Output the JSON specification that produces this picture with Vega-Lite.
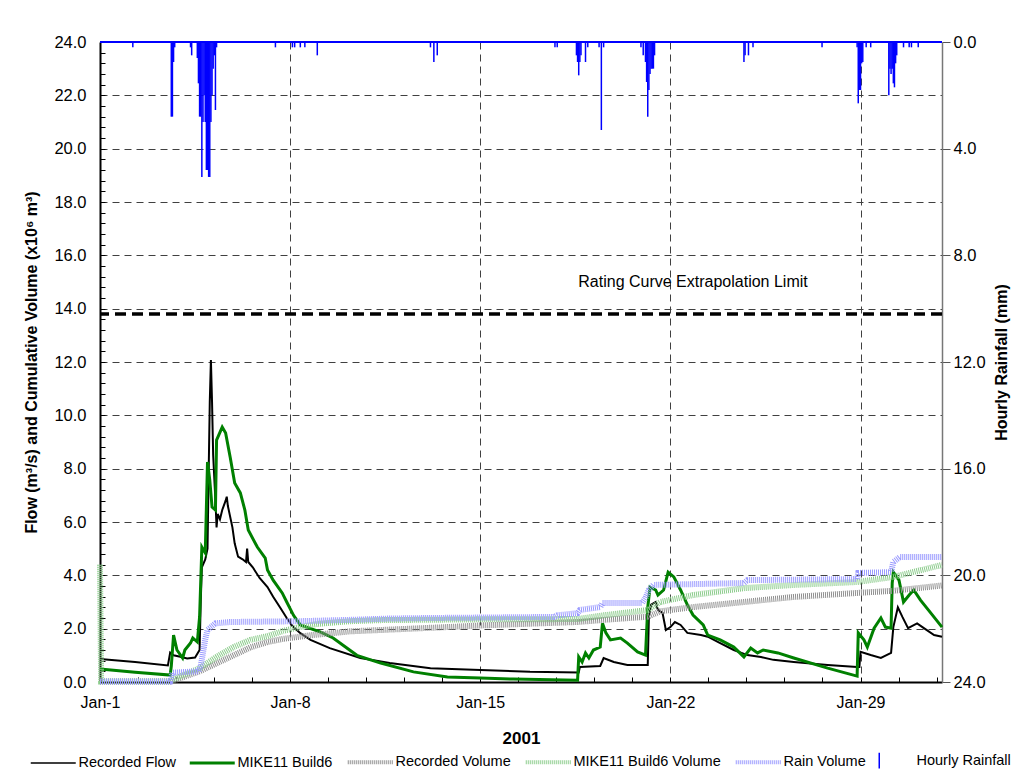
{
  "$schema": "https://vega.github.io/schema/vega-lite/v6.json",
  "width": 842,
  "height": 640,
  "autosize": {"type": "none"},
  "padding": {"left": 100, "top": 42, "right": 75, "bottom": 98},
  "background": "white",
  "config": {
    "font": "Liberation Sans",
    "view": {"stroke": null},
    "text": {"font": "Liberation Sans"},
    "legend": {
      "direction": "horizontal",
      "labelFontSize": 14.5,
      "labelColor": "black",
      "labelFont": "Liberation Sans",
      "symbolType": "stroke",
      "symbolSize": 2025,
      "symbolStrokeWidth": 2,
      "columnPadding": 6,
      "labelOffset": 18,
      "padding": 0
    }
  },
  "datasets": {
    "recflow": [
      {"t":"2001-01-01T00:00","v":0.86},{"t":"2001-01-02T07:00","v":0.75},{"t":"2001-01-03T12:00","v":0.62},{"t":"2001-01-03T14:00","v":1.1},{"t":"2001-01-03T17:00","v":1.0},{"t":"2001-01-03T23:00","v":0.95},{"t":"2001-01-04T05:00","v":0.88},{"t":"2001-01-04T12:00","v":0.92},{"t":"2001-01-04T16:00","v":1.2},{"t":"2001-01-04T17:00","v":3.0},{"t":"2001-01-04T18:00","v":4.3},{"t":"2001-01-04T21:00","v":4.6},{"t":"2001-01-04T23:00","v":5.0},{"t":"2001-01-05T00:00","v":7.8},{"t":"2001-01-05T01:00","v":10.5},{"t":"2001-01-05T02:00","v":12.07},{"t":"2001-01-05T03:00","v":10.5},{"t":"2001-01-05T04:00","v":8.5},{"t":"2001-01-05T06:00","v":6.8},{"t":"2001-01-05T07:00","v":5.8},{"t":"2001-01-05T08:00","v":6.3},{"t":"2001-01-05T10:00","v":6.1},{"t":"2001-01-05T12:00","v":6.45},{"t":"2001-01-05T15:00","v":6.8},{"t":"2001-01-05T16:00","v":6.95},{"t":"2001-01-05T17:00","v":6.6},{"t":"2001-01-05T21:00","v":5.8},{"t":"2001-01-05T23:00","v":5.2},{"t":"2001-01-06T02:00","v":4.7},{"t":"2001-01-06T06:00","v":4.6},{"t":"2001-01-06T09:00","v":4.5},{"t":"2001-01-06T10:00","v":5.0},{"t":"2001-01-06T11:00","v":4.5},{"t":"2001-01-06T15:00","v":4.3},{"t":"2001-01-06T21:00","v":3.9},{"t":"2001-01-07T04:00","v":3.56},{"t":"2001-01-07T09:00","v":3.2},{"t":"2001-01-07T15:00","v":2.8},{"t":"2001-01-07T21:00","v":2.4},{"t":"2001-01-08T02:00","v":2.1},{"t":"2001-01-08T09:00","v":1.83},{"t":"2001-01-08T18:00","v":1.58},{"t":"2001-01-09T11:00","v":1.27},{"t":"2001-01-10T14:00","v":0.9},{"t":"2001-01-11T16:00","v":0.71},{"t":"2001-01-13T04:00","v":0.52},{"t":"2001-01-15T00:00","v":0.45},{"t":"2001-01-16T20:00","v":0.38},{"t":"2001-01-18T15:00","v":0.36},{"t":"2001-01-18T16:00","v":0.56},{"t":"2001-01-19T10:00","v":0.6},{"t":"2001-01-19T13:00","v":0.9},{"t":"2001-01-19T22:00","v":0.75},{"t":"2001-01-20T10:00","v":0.64},{"t":"2001-01-21T04:00","v":0.64},{"t":"2001-01-21T05:00","v":2.44},{"t":"2001-01-21T07:00","v":2.9},{"t":"2001-01-21T11:00","v":3.0},{"t":"2001-01-21T13:00","v":2.7},{"t":"2001-01-21T17:00","v":2.6},{"t":"2001-01-21T20:00","v":1.95},{"t":"2001-01-22T00:00","v":2.06},{"t":"2001-01-22T04:00","v":2.25},{"t":"2001-01-22T09:00","v":2.14},{"t":"2001-01-22T15:00","v":1.84},{"t":"2001-01-23T03:00","v":1.76},{"t":"2001-01-23T09:00","v":1.7},{"t":"2001-01-23T20:00","v":1.46},{"t":"2001-01-24T08:00","v":1.2},{"t":"2001-01-24T20:00","v":1.01},{"t":"2001-01-25T08:00","v":0.94},{"t":"2001-01-25T19:00","v":0.83},{"t":"2001-01-26T13:00","v":0.75},{"t":"2001-01-27T19:00","v":0.64},{"t":"2001-01-28T21:00","v":0.56},{"t":"2001-01-28T23:00","v":0.56},{"t":"2001-01-29T00:00","v":1.13},{"t":"2001-01-29T09:00","v":1.01},{"t":"2001-01-29T18:00","v":0.9},{"t":"2001-01-30T03:00","v":1.09},{"t":"2001-01-30T05:00","v":2.06},{"t":"2001-01-30T09:00","v":2.8},{"t":"2001-01-30T13:00","v":2.44},{"t":"2001-01-30T18:00","v":2.02},{"t":"2001-01-31T02:00","v":2.2},{"t":"2001-01-31T08:00","v":2.02},{"t":"2001-01-31T17:00","v":1.76},{"t":"2001-02-01T00:00","v":1.7}
    ],
    "mikeflow": [
      {"t":"2001-01-01T00:00","v":0.49},{"t":"2001-01-02T07:00","v":0.37},{"t":"2001-01-03T14:00","v":0.26},{"t":"2001-01-03T15:00","v":0.6},{"t":"2001-01-03T17:00","v":1.76},{"t":"2001-01-03T20:00","v":1.2},{"t":"2001-01-04T01:00","v":0.9},{"t":"2001-01-04T03:00","v":1.2},{"t":"2001-01-04T08:00","v":1.46},{"t":"2001-01-04T10:00","v":1.65},{"t":"2001-01-04T14:00","v":1.5},{"t":"2001-01-04T16:00","v":2.44},{"t":"2001-01-04T18:00","v":5.06},{"t":"2001-01-04T21:00","v":4.84},{"t":"2001-01-04T23:00","v":8.25},{"t":"2001-01-05T01:00","v":7.57},{"t":"2001-01-05T03:00","v":6.56},{"t":"2001-01-05T06:00","v":6.45},{"t":"2001-01-05T07:00","v":9.07},{"t":"2001-01-05T12:00","v":9.56},{"t":"2001-01-05T15:00","v":9.34},{"t":"2001-01-05T19:00","v":8.44},{"t":"2001-01-05T23:00","v":7.46},{"t":"2001-01-06T04:00","v":7.09},{"t":"2001-01-06T08:00","v":6.45},{"t":"2001-01-06T11:00","v":5.7},{"t":"2001-01-06T19:00","v":5.06},{"t":"2001-01-07T02:00","v":4.65},{"t":"2001-01-07T04:00","v":4.2},{"t":"2001-01-07T09:00","v":3.82},{"t":"2001-01-07T17:00","v":3.34},{"t":"2001-01-07T21:00","v":3.0},{"t":"2001-01-08T03:00","v":2.5},{"t":"2001-01-08T09:00","v":2.14},{"t":"2001-01-09T03:00","v":1.87},{"t":"2001-01-09T14:00","v":1.65},{"t":"2001-01-10T11:00","v":1.0},{"t":"2001-01-11T08:00","v":0.71},{"t":"2001-01-12T13:00","v":0.38},{"t":"2001-01-13T19:00","v":0.19},{"t":"2001-01-15T00:00","v":0.15},{"t":"2001-01-16T05:00","v":0.11},{"t":"2001-01-18T14:00","v":0.07},{"t":"2001-01-18T15:00","v":0.94},{"t":"2001-01-18T18:00","v":0.75},{"t":"2001-01-18T21:00","v":1.09},{"t":"2001-01-19T00:00","v":0.9},{"t":"2001-01-19T04:00","v":1.2},{"t":"2001-01-19T10:00","v":1.31},{"t":"2001-01-19T12:00","v":2.2},{"t":"2001-01-19T15:00","v":1.84},{"t":"2001-01-19T19:00","v":1.58},{"t":"2001-01-20T04:00","v":1.65},{"t":"2001-01-20T10:00","v":1.46},{"t":"2001-01-20T19:00","v":1.13},{"t":"2001-01-21T02:00","v":1.01},{"t":"2001-01-21T04:00","v":2.8},{"t":"2001-01-21T06:00","v":3.56},{"t":"2001-01-21T11:00","v":3.45},{"t":"2001-01-21T13:00","v":3.26},{"t":"2001-01-21T18:00","v":3.45},{"t":"2001-01-21T22:00","v":4.12},{"t":"2001-01-22T03:00","v":3.94},{"t":"2001-01-22T09:00","v":3.45},{"t":"2001-01-22T15:00","v":2.89},{"t":"2001-01-22T20:00","v":2.51},{"t":"2001-01-23T05:00","v":2.14},{"t":"2001-01-23T09:00","v":1.76},{"t":"2001-01-23T20:00","v":1.58},{"t":"2001-01-24T08:00","v":1.31},{"t":"2001-01-24T17:00","v":0.94},{"t":"2001-01-24T23:00","v":1.27},{"t":"2001-01-25T05:00","v":1.09},{"t":"2001-01-25T10:00","v":1.2},{"t":"2001-01-25T23:00","v":1.09},{"t":"2001-01-26T13:00","v":0.9},{"t":"2001-01-27T19:00","v":0.52},{"t":"2001-01-28T21:00","v":0.22},{"t":"2001-01-28T22:00","v":1.84},{"t":"2001-01-29T03:00","v":1.58},{"t":"2001-01-29T06:00","v":1.31},{"t":"2001-01-29T12:00","v":2.02},{"t":"2001-01-29T18:00","v":2.4},{"t":"2001-01-29T22:00","v":2.06},{"t":"2001-01-30T03:00","v":2.02},{"t":"2001-01-30T04:00","v":3.71},{"t":"2001-01-30T05:00","v":4.12},{"t":"2001-01-30T10:00","v":3.82},{"t":"2001-01-30T14:00","v":3.0},{"t":"2001-01-30T19:00","v":3.26},{"t":"2001-01-30T23:00","v":3.45},{"t":"2001-01-31T05:00","v":3.07},{"t":"2001-01-31T14:00","v":2.59},{"t":"2001-02-01T00:00","v":2.06}
    ],
    "recvol": [
      {"t":"2001-01-01T00:00","v":0.02},{"t":"2001-01-03T14:00","v":0.02},{"t":"2001-01-03T20:00","v":0.1},{"t":"2001-01-04T16:00","v":0.4},{"t":"2001-01-05T07:00","v":0.7},{"t":"2001-01-05T22:00","v":1.0},{"t":"2001-01-06T13:00","v":1.3},{"t":"2001-01-07T04:00","v":1.5},{"t":"2001-01-07T18:00","v":1.62},{"t":"2001-01-08T20:00","v":1.76},{"t":"2001-01-10T05:00","v":1.9},{"t":"2001-01-11T08:00","v":1.95},{"t":"2001-01-13T19:00","v":2.06},{"t":"2001-01-15T00:00","v":2.12},{"t":"2001-01-18T14:00","v":2.25},{"t":"2001-01-19T13:00","v":2.33},{"t":"2001-01-21T04:00","v":2.45},{"t":"2001-01-21T15:00","v":2.65},{"t":"2001-01-22T20:00","v":2.81},{"t":"2001-01-24T17:00","v":3.0},{"t":"2001-01-26T13:00","v":3.19},{"t":"2001-01-28T21:00","v":3.34},{"t":"2001-01-30T05:00","v":3.42},{"t":"2001-02-01T00:00","v":3.62}
    ],
    "mikevol": [
      {"t":"2001-01-01T00:00","v":4.4},{"t":"2001-01-01T01:00","v":0.02},{"t":"2001-01-03T14:00","v":0.02},{"t":"2001-01-03T17:00","v":0.1},{"t":"2001-01-04T16:00","v":0.52},{"t":"2001-01-05T07:00","v":0.94},{"t":"2001-01-05T22:00","v":1.31},{"t":"2001-01-06T13:00","v":1.58},{"t":"2001-01-07T04:00","v":1.72},{"t":"2001-01-07T18:00","v":1.92},{"t":"2001-01-08T09:00","v":2.06},{"t":"2001-01-09T00:00","v":2.18},{"t":"2001-01-10T05:00","v":2.28},{"t":"2001-01-11T08:00","v":2.32},{"t":"2001-01-15T00:00","v":2.35},{"t":"2001-01-18T14:00","v":2.36},{"t":"2001-01-19T13:00","v":2.5},{"t":"2001-01-21T04:00","v":2.7},{"t":"2001-01-21T15:00","v":3.0},{"t":"2001-01-22T20:00","v":3.26},{"t":"2001-01-24T17:00","v":3.52},{"t":"2001-01-26T13:00","v":3.64},{"t":"2001-01-28T21:00","v":3.75},{"t":"2001-01-30T05:00","v":3.94},{"t":"2001-02-01T00:00","v":4.39}
    ],
    "rainvol": [
      {"t":"2001-01-01T00:00","v":0.02},{"t":"2001-01-03T14:00","v":0.02},{"t":"2001-01-03T16:00","v":0.35},{"t":"2001-01-04T15:00","v":0.4},{"t":"2001-01-04T17:00","v":0.6},{"t":"2001-01-04T21:00","v":1.6},{"t":"2001-01-04T23:00","v":1.95},{"t":"2001-01-05T06:00","v":2.2},{"t":"2001-01-05T19:00","v":2.25},{"t":"2001-01-08T09:00","v":2.28},{"t":"2001-01-10T05:00","v":2.33},{"t":"2001-01-11T16:00","v":2.38},{"t":"2001-01-13T04:00","v":2.4},{"t":"2001-01-17T17:00","v":2.44},{"t":"2001-01-17T20:00","v":2.5},{"t":"2001-01-18T14:00","v":2.58},{"t":"2001-01-18T16:00","v":2.7},{"t":"2001-01-19T10:00","v":2.81},{"t":"2001-01-19T12:00","v":2.96},{"t":"2001-01-20T23:00","v":2.96},{"t":"2001-01-21T02:00","v":3.15},{"t":"2001-01-21T05:00","v":3.45},{"t":"2001-01-21T09:00","v":3.64},{"t":"2001-01-24T17:00","v":3.71},{"t":"2001-01-24T20:00","v":3.82},{"t":"2001-01-28T21:00","v":3.86},{"t":"2001-01-28T22:00","v":4.09},{"t":"2001-01-30T03:00","v":4.12},{"t":"2001-01-30T05:00","v":4.5},{"t":"2001-01-30T11:00","v":4.69},{"t":"2001-02-01T00:00","v":4.69}
    ],
    "rain": [
      {"t":"2001-01-02T05:00","mm":0.2},{"t":"2001-01-03T15:00","mm":2.8},{"t":"2001-01-03T16:00","mm":2.8},{"t":"2001-01-03T17:00","mm":0.75},{"t":"2001-01-03T18:00","mm":0.2},{"t":"2001-01-04T08:00","mm":0.2},{"t":"2001-01-04T09:00","mm":0.5},{"t":"2001-01-04T14:00","mm":0.6},{"t":"2001-01-04T15:00","mm":1.55},{"t":"2001-01-04T16:00","mm":2.8},{"t":"2001-01-04T17:00","mm":2.8},{"t":"2001-01-04T18:00","mm":5.06},{"t":"2001-01-04T19:00","mm":3.0},{"t":"2001-01-04T20:00","mm":2.0},{"t":"2001-01-04T21:00","mm":3.0},{"t":"2001-01-04T22:00","mm":4.8},{"t":"2001-01-04T23:00","mm":4.8},{"t":"2001-01-05T00:00","mm":5.06},{"t":"2001-01-05T01:00","mm":5.06},{"t":"2001-01-05T02:00","mm":3.0},{"t":"2001-01-05T03:00","mm":2.0},{"t":"2001-01-05T04:00","mm":1.0},{"t":"2001-01-05T05:00","mm":0.5},{"t":"2001-01-05T06:00","mm":2.55},{"t":"2001-01-05T07:00","mm":0.2},{"t":"2001-01-07T11:00","mm":0.2},{"t":"2001-01-08T02:00","mm":0.2},{"t":"2001-01-08T04:00","mm":0.2},{"t":"2001-01-08T09:00","mm":0.2},{"t":"2001-01-08T13:00","mm":0.2},{"t":"2001-01-09T00:00","mm":0.5},{"t":"2001-01-13T04:00","mm":0.2},{"t":"2001-01-13T07:00","mm":0.75},{"t":"2001-01-13T10:00","mm":0.5},{"t":"2001-01-17T18:00","mm":0.2},{"t":"2001-01-17T20:00","mm":0.2},{"t":"2001-01-18T13:00","mm":0.5},{"t":"2001-01-18T14:00","mm":0.75},{"t":"2001-01-18T15:00","mm":1.25},{"t":"2001-01-18T16:00","mm":0.75},{"t":"2001-01-18T17:00","mm":0.5},{"t":"2001-01-18T21:00","mm":0.75},{"t":"2001-01-18T23:00","mm":0.2},{"t":"2001-01-19T09:00","mm":0.2},{"t":"2001-01-19T11:00","mm":3.3},{"t":"2001-01-19T13:00","mm":0.2},{"t":"2001-01-20T22:00","mm":0.2},{"t":"2001-01-21T00:00","mm":0.5},{"t":"2001-01-21T02:00","mm":0.75},{"t":"2001-01-21T03:00","mm":1.5},{"t":"2001-01-21T04:00","mm":2.8},{"t":"2001-01-21T05:00","mm":1.8},{"t":"2001-01-21T06:00","mm":1.2},{"t":"2001-01-21T07:00","mm":1.0},{"t":"2001-01-21T08:00","mm":1.0},{"t":"2001-01-21T09:00","mm":1.0},{"t":"2001-01-21T10:00","mm":0.5},{"t":"2001-01-24T17:00","mm":0.75},{"t":"2001-01-24T18:00","mm":0.5},{"t":"2001-01-24T21:00","mm":0.5},{"t":"2001-01-25T01:00","mm":0.2},{"t":"2001-01-27T14:00","mm":0.2},{"t":"2001-01-28T21:00","mm":0.2},{"t":"2001-01-28T22:00","mm":2.3},{"t":"2001-01-28T23:00","mm":1.8},{"t":"2001-01-29T00:00","mm":1.8},{"t":"2001-01-29T01:00","mm":0.8},{"t":"2001-01-29T02:00","mm":0.75},{"t":"2001-01-29T05:00","mm":0.2},{"t":"2001-01-29T09:00","mm":0.2},{"t":"2001-01-30T01:00","mm":2.0},{"t":"2001-01-30T02:00","mm":1.0},{"t":"2001-01-30T03:00","mm":1.2},{"t":"2001-01-30T04:00","mm":1.0},{"t":"2001-01-30T05:00","mm":1.55},{"t":"2001-01-30T06:00","mm":1.7},{"t":"2001-01-30T07:00","mm":0.8},{"t":"2001-01-30T08:00","mm":0.5},{"t":"2001-01-30T14:00","mm":0.2},{"t":"2001-01-30T19:00","mm":0.2},{"t":"2001-01-30T21:00","mm":0.2},{"t":"2001-01-31T03:00","mm":0.2}
    ],
    "limit": [{"flow": 13.8, "label": "Rating Curve Extrapolation Limit", "t": "2001-01-22T20:00"}]
  },
  "layer": [
    {
      "layer": [
        {
          "data": {"name": "recflow"},
          "mark": {"type": "line", "strokeWidth": 2},
          "encoding": {
            "x": {
              "field": "t", "type": "temporal",
              "scale": {"domain": [{"year": 2001, "month": 1, "date": 1}, {"year": 2001, "month": 2, "date": 1}]},
              "axis": {
                "title": "2001", "titleFontSize": 17, "titleFontWeight": "bold", "titleColor": "black", "titlePadding": 20,
                "tickCount": 200,
                "values": [
                  {"year":2001,"month":1,"date":1},{"year":2001,"month":1,"date":2,"hours":9,"minutes":36},{"year":2001,"month":1,"date":3,"hours":19,"minutes":12},{"year":2001,"month":1,"date":5,"hours":4,"minutes":48},{"year":2001,"month":1,"date":6,"hours":14,"minutes":24},
                  {"year":2001,"month":1,"date":8},{"year":2001,"month":1,"date":9,"hours":9,"minutes":36},{"year":2001,"month":1,"date":10,"hours":19,"minutes":12},{"year":2001,"month":1,"date":12,"hours":4,"minutes":48},{"year":2001,"month":1,"date":13,"hours":14,"minutes":24},
                  {"year":2001,"month":1,"date":15},{"year":2001,"month":1,"date":16,"hours":9,"minutes":36},{"year":2001,"month":1,"date":17,"hours":19,"minutes":12},{"year":2001,"month":1,"date":19,"hours":4,"minutes":48},{"year":2001,"month":1,"date":20,"hours":14,"minutes":24},
                  {"year":2001,"month":1,"date":22},{"year":2001,"month":1,"date":23,"hours":9,"minutes":36},{"year":2001,"month":1,"date":24,"hours":19,"minutes":12},{"year":2001,"month":1,"date":26,"hours":4,"minutes":48},{"year":2001,"month":1,"date":27,"hours":14,"minutes":24},
                  {"year":2001,"month":1,"date":29},{"year":2001,"month":1,"date":30,"hours":9,"minutes":36},{"year":2001,"month":1,"date":31,"hours":19,"minutes":12}
                ],
                "labelExpr": "hours(datum.value) == 0 && minutes(datum.value) == 0 ? timeFormat(datum.value, '%b-%-d') : ''",
                "labelFontSize": 16, "labelColor": "black", "labelPadding": 17, "labelFlush": false, "labelOverlap": false, "labelAngle": 0,
                "tickSize": -5, "tickColor": "black",
                "domainColor": "black", "domainWidth": 2,
                "grid": true, "gridColor": "#404040", "gridDash": [7, 5], "gridWidth": 1,
                "gridOpacity": {"condition": {"test": "hours(datum.value) == 0 && minutes(datum.value) == 0 && date(datum.value) != 1", "value": 1}, "value": 0}
              }
            },
            "y": {
              "field": "v", "type": "quantitative",
              "scale": {"domain": [0, 24], "nice": false},
              "axis": {
                "title": "Flow (m³/s) and Cumulative Volume (x10⁶ m³)",
                "titleFontSize": 16, "titleFontWeight": "bold", "titleColor": "black", "titlePadding": 14,
                "tickCount": 200,
                "values": [0,0.4,0.8,1.2,1.6,2,2.4,2.8,3.2,3.6,4,4.4,4.8,5.2,5.6,6,6.4,6.8,7.2,7.6,8,8.4,8.8,9.2,9.6,10,10.4,10.8,11.2,11.6,12,12.4,12.8,13.2,13.6,14,14.4,14.8,15.2,15.6,16,16.4,16.8,17.2,17.6,18,18.4,18.8,19.2,19.6,20,20.4,20.8,21.2,21.6,22,22.4,22.8,23.2,23.6,24],
                "labelExpr": "abs(datum.value / 2 - round(datum.value / 2)) < 0.001 ? format(datum.value, '.1f') : ''",
                "labelFontSize": 16.5, "labelColor": "black", "labelPadding": 19, "labelOverlap": false, "labelFlush": false,
                "tickSize": -5, "tickColor": "black",
                "domainColor": "black", "domainWidth": 2,
                "grid": true, "gridColor": "#404040", "gridDash": [7, 5], "gridWidth": 1,
                "gridOpacity": {"condition": {"test": "abs(datum.value / 2 - round(datum.value / 2)) < 0.001 && datum.value > 0 && datum.value < 24", "value": 1}, "value": 0}
              }
            },
            "color": {
              "datum": "Recorded Flow", "type": "nominal",
              "scale": {
                "domain": ["Recorded Flow", "MIKE11 Build6", "Recorded Volume", "MIKE11 Build6 Volume", "Rain Volume", "Hourly Rainfall"],
                "range": ["#000000", "#008000", "#8f8f8f", "#8ccc8c", "#9a9aff", "#0000ff"]
              },
              "legend": {
                "title": null,
                "orient": "none",
                "legendX": -54,
                "legendY": 711,
                "encode": {
                  "symbols": {
                    "update": {
                      "strokeWidth": {"signal": "datum.value == 'Recorded Flow' ? 1.5 : datum.value == 'MIKE11 Build6' ? 3 : datum.value == 'Hourly Rainfall' ? 1.5 : 4"},
                      "strokeDash": {"signal": "indexof(['Recorded Volume', 'MIKE11 Build6 Volume', 'Rain Volume'], datum.value) >= 0 ? [1, 1] : [1, 0]"},
                      "shape": {"signal": "datum.value == 'Hourly Rainfall' ? 'M0,-0.35L0,0.35' : 'stroke'"}
                    }
                  },
                  "labels": {
                    "update": {
                      "dx": {"signal": "datum.value == 'Hourly Rainfall' ? 12 : 0"}
                    }
                  }
                }
              }
            }
          }
        },
        {
          "data": {"name": "mikeflow"},
          "mark": {"type": "line", "strokeWidth": 3},
          "encoding": {
            "x": {"field": "t", "type": "temporal"},
            "y": {"field": "v", "type": "quantitative"},
            "color": {"datum": "MIKE11 Build6", "type": "nominal"}
          }
        },
        {
          "data": {"name": "recvol"},
          "mark": {"type": "line", "strokeWidth": 6, "strokeDash": [1, 1]},
          "encoding": {
            "x": {"field": "t", "type": "temporal"},
            "y": {"field": "v", "type": "quantitative"},
            "color": {"datum": "Recorded Volume", "type": "nominal"}
          }
        },
        {
          "data": {"name": "mikevol"},
          "mark": {"type": "line", "strokeWidth": 6, "strokeDash": [1, 1]},
          "encoding": {
            "x": {"field": "t", "type": "temporal"},
            "y": {"field": "v", "type": "quantitative"},
            "color": {"datum": "MIKE11 Build6 Volume", "type": "nominal"}
          }
        },
        {
          "data": {"name": "rainvol"},
          "mark": {"type": "line", "strokeWidth": 6, "strokeDash": [1, 1]},
          "encoding": {
            "x": {"field": "t", "type": "temporal"},
            "y": {"field": "v", "type": "quantitative"},
            "color": {"datum": "Rain Volume", "type": "nominal"}
          }
        },
        {
          "data": {"name": "limit"},
          "mark": {"type": "rule", "color": "black", "strokeWidth": 3.5, "strokeDash": [11, 6]},
          "encoding": {
            "y": {"field": "flow", "type": "quantitative"}
          }
        },
        {
          "data": {"name": "limit"},
          "mark": {"type": "text", "fontSize": 16, "color": "black", "dy": -32, "align": "center", "baseline": "middle"},
          "encoding": {
            "x": {"field": "t", "type": "temporal"},
            "y": {"field": "flow", "type": "quantitative"},
            "text": {"field": "label"}
          }
        }
      ]
    },
    {
      "layer": [
        {
          "data": {"name": "rain"},
          "mark": {"type": "rule", "strokeWidth": 1.5},
          "encoding": {
            "x": {"field": "t", "type": "temporal"},
            "y": {
              "field": "mm", "type": "quantitative",
              "scale": {"domain": [0, 24], "reverse": true, "nice": false},
              "axis": {
                "orient": "right", "title": "Hourly Rainfall (mm)", "titleAngle": 270, "titleBaseline": "top",
                "titleFontSize": 16, "titleFontWeight": "bold", "titleColor": "black", "titlePadding": 8,
                "values": [0, 4, 8, 12, 16, 20, 24], "format": ".1f",
                "labelFontSize": 16.5, "labelColor": "black", "labelPadding": 3,
                "tickSize": 8, "tickColor": "#555555",
                "domainColor": "#777777", "domainWidth": 1.5, "grid": false
              }
            },
            "y2": {"datum": 0},
            "color": {"datum": "Hourly Rainfall", "type": "nominal"}
          }
        },
        {
          "data": {"values": [{"mm": 0}]},
          "mark": {"type": "rule", "color": "#0000ff", "strokeWidth": 2},
          "encoding": {
            "y": {"field": "mm", "type": "quantitative"}
          }
        }
      ]
    }
  ],
  "resolve": {"scale": {"y": "independent"}}
}
